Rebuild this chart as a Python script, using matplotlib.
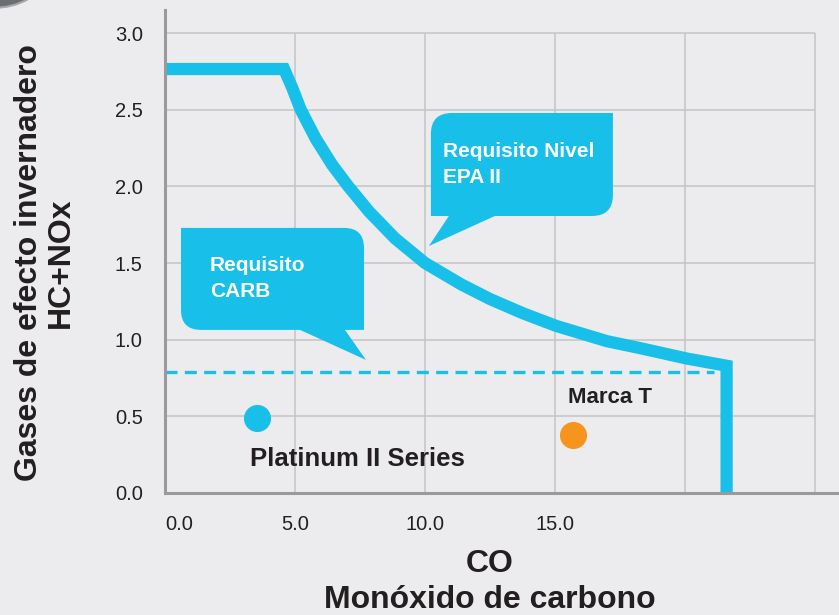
import numpy as np
import matplotlib
matplotlib.use("Agg")
import matplotlib.pyplot as plt
from matplotlib.path import Path
from matplotlib.patches import PathPatch, Ellipse
from matplotlib.transforms import IdentityTransform

plt.rcParams['font.family'] = ['Liberation Sans', 'DejaVu Sans']

# limit curve (EPA Phase II) : CO vs HC+NOx
co_curve = [0.0, 4.58, 4.90, 5.22, 5.80, 6.43, 7.05, 7.85, 8.85, 10.0, 11.4, 12.5,
            13.77, 15.04, 17.0, 18.27, 20.07, 21.6, 21.6]
hc_curve = [2.765, 2.765, 2.64, 2.50, 2.31, 2.14, 2.0, 1.835, 1.66, 1.50, 1.36, 1.265,
            1.172, 1.09, 0.99, 0.945, 0.877, 0.83, 0.0]

# CARB limit (dashed)
carb_co = [0.0, 21.1]
carb_hc = [0.79, 0.79]

# measured engines
pts_names = ['Platinum II Series', 'Marca T']
pts_co = [3.54, 15.7]
pts_hc = [0.49, 0.38]

xticks = [0, 5, 10, 15]
xtick_labels = ['0.0', '5.0', '10.0', '15.0']
yticks = [0.0, 0.5, 1.0, 1.5, 2.0, 2.5, 3.0]
ytick_labels = ['0.0', '0.5', '1.0', '1.5', '2.0', '2.5', '3.0']
grid_x = [5, 10, 15, 20, 25]
grid_y = [0.5, 1.0, 1.5, 2.0, 2.5, 3.0]

BG = '#ECECEE'
BLUE = '#17BFE9'
ORANGE = '#F7941D'
DARK = '#231F20'
GRID = '#C4C4C6'
SPINE = '#9A9A9C'

W, H = 839, 615
fig = plt.figure(figsize=(W / 100, H / 100), dpi=100, facecolor=BG)
ax = fig.add_axes([165 / W, (H - 493) / H, (W - 165) / W, 483 / H])
ax.set_facecolor(BG)
ax.set_xlim(0, 674 / 26)
ax.set_ylim(0, 483 / 153.33)

for s in ['top', 'right']:
    ax.spines[s].set_visible(False)
for s in ['left', 'bottom']:
    ax.spines[s].set_color(SPINE)
    ax.spines[s].set_linewidth(2.2)
    ax.spines[s].set_zorder(5)

ax.vlines(grid_x, 0, 3.0, colors=GRID, lw=1.1, zorder=0)
ax.hlines(grid_y, 0, 25, colors=GRID, lw=1.1, zorder=0)

ax.set_xticks(xticks)
ax.set_xticklabels(xtick_labels)
ax.set_yticks(yticks)
ax.set_yticklabels(ytick_labels)
ax.tick_params(length=0, labelsize=14.5, labelcolor=DARK, pad=16)
ax.get_xticklabels()[0].set_horizontalalignment('left')

ax.plot(carb_co, carb_hc, color=BLUE, lw=2.4, dashes=(3.6, 2.2), zorder=2)
ax.plot(co_curve, hc_curve, color=BLUE, lw=8.8, solid_joinstyle='miter',
        solid_capstyle='butt', zorder=3)

ax.plot(pts_co[0], pts_hc[0], 'o', ms=19.5, color=BLUE, mec='none', zorder=4)
ax.plot(pts_co[1], pts_hc[1], 'o', ms=19.5, color=ORANGE, mec='none', zorder=4)
ax.annotate(pts_names[0], (pts_co[0], pts_hc[0]), xytext=(-7, -41),
            textcoords='offset pixels', ha='left', va='center',
            fontsize=18.5, fontweight='bold', color=DARK)
ax.annotate(pts_names[1], (pts_co[1], pts_hc[1]), xytext=(-5, 37),
            textcoords='offset pixels', ha='left', va='center',
            fontsize=16, fontweight='bold', color=DARK)


def callout(tip, box, tail, rounded, r, text, toff):
    # box/tail given in pixel offsets from the tip, y pointing down
    tx, ty = ax.transData.transform(tip)
    l, rgt, t, b = box
    a1, a2 = tail
    verts = [(l, t), (rgt, t), (rgt, b), (a2, b), (0, 0), (a1, b), (l, b)]
    flags = [rounded.get(k, False) for k in ['tl', 'tr', 'br', None, None, None, 'bl']]
    pv, pc = [], []
    n = len(verts)
    for i, (p, f) in enumerate(zip(verts, flags)):
        p = np.array(p, float)
        if f:
            q = np.array(verts[i - 1], float)
            nx = np.array(verts[(i + 1) % n], float)
            s = p + r * (q - p) / np.linalg.norm(q - p)
            e = p + r * (nx - p) / np.linalg.norm(nx - p)
            pv += [s, p, e]
            pc += [Path.LINETO, Path.CURVE3, Path.CURVE3]
        else:
            pv.append(p)
            pc.append(Path.LINETO)
    pc[0] = Path.MOVETO
    pv.append(pv[0])
    pc.append(Path.CLOSEPOLY)
    disp = [(tx + x, ty - y) for x, y in pv]
    ax.add_artist(PathPatch(Path(disp, pc), transform=IdentityTransform(),
                            facecolor=BLUE, edgecolor='none', zorder=4))
    ax.annotate(text, tip, xytext=toff, textcoords='offset pixels',
                ha='left', va='top', fontsize=15, fontweight='bold',
                color='white', linespacing=1.45, zorder=6)


callout((10.15, 1.611), (2, 184, -133, -30), (20, 66), {'tl': True, 'br': True}, 21,
        'Requisito Nivel\nEPA II', (14, 104))
callout((7.73, 0.868), (-185, -2, -132, -30), (-66, -21), {'tr': True, 'bl': True}, 20,
        'Requisito\nCARB', (-156, 104))

fig.text(45 / W, 1 - 263 / H, 'Gases de efecto invernadero\nHC+NOx', rotation=90,
         ha='center', va='center', multialignment='center', fontsize=23,
         fontweight='bold', color=DARK, linespacing=1.08)
fig.text(490 / W, 1 - 582 / H, 'CO\nMonóxido de carbono', ha='center', va='center',
         multialignment='center', fontsize=23, fontweight='bold', color=DARK,
         linespacing=1.22)

# decorative corner tab
fig.patches.append(Ellipse((-8 / W, 1 + 24 / H), 104 / W, 64 / H, transform=fig.transFigure,
                           facecolor='#6D6E71', edgecolor='#A7A8AA', lw=1.5))

fig.savefig('out.png', dpi=100, facecolor=BG)
